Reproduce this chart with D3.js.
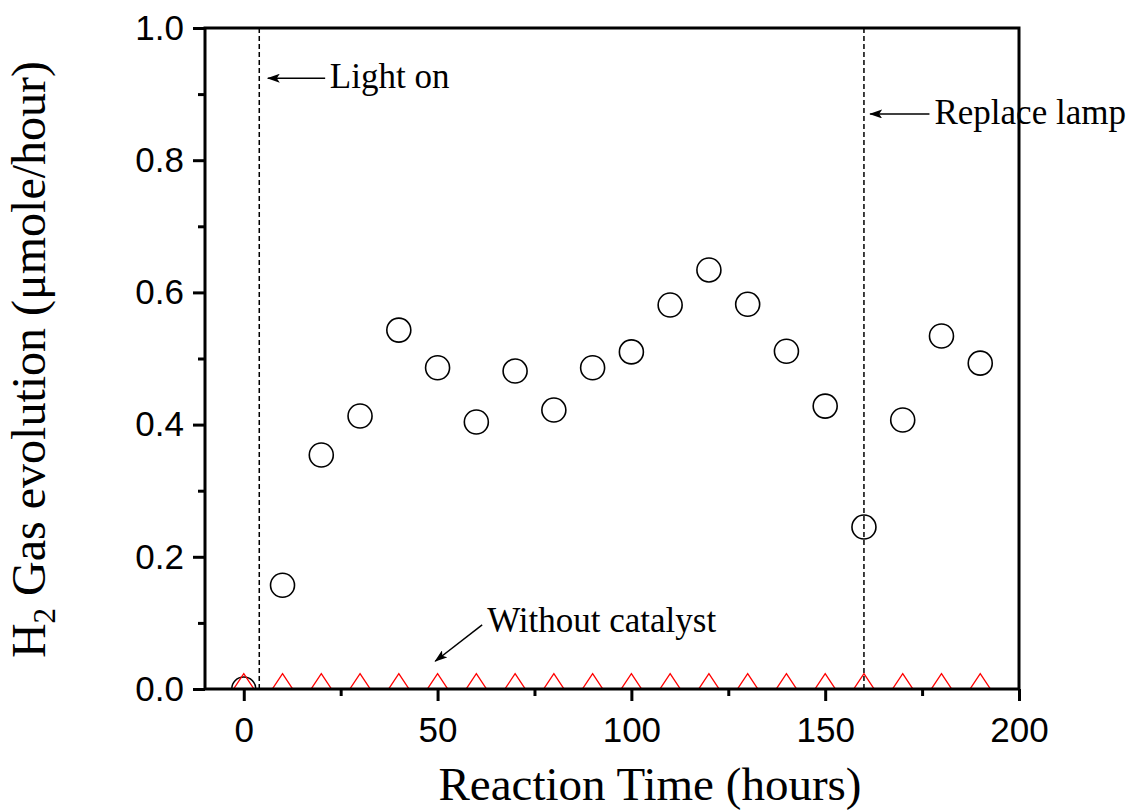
<!DOCTYPE html>
<html>
<head>
<meta charset="utf-8">
<script src="https://cdn.jsdelivr.net/npm/d3@7"></script>
<style>
  body { margin: 0; background: #fff; }
  svg { display: block; }
</style>
</head>
<body>
<svg id="chart"></svg>
<script>
// reaction time (hours)
const times = [0, 10, 20, 30, 40, 50, 60, 70, 80, 90, 100, 110, 120, 130, 140, 150, 160, 170, 180, 190];
// H2 evolution with catalyst (umole/hour)
const withCatalyst = [0.0, 0.157, 0.354, 0.413, 0.543, 0.486, 0.404, 0.481, 0.422, 0.486, 0.510, 0.581, 0.634, 0.582, 0.511, 0.428, 0.245, 0.407, 0.534, 0.493];
// without catalyst
const withoutCatalyst = [0.008, 0.008, 0.008, 0.008, 0.008, 0.008, 0.008, 0.008, 0.008, 0.008, 0.008, 0.008, 0.008, 0.008, 0.008, 0.008, 0.008, 0.008, 0.008, 0.008];

const xTicks = [0, 50, 100, 150, 200];
const xMinor = [25, 75, 125, 175];
const yTicks = [0.0, 0.2, 0.4, 0.6, 0.8, 1.0];
const yMinor = [0.1, 0.3, 0.5, 0.7, 0.9];

// events marked by dashed lines
const eventTimes = [4, 160];

var margin = { top: 28, right: 114, bottom: 122, left: 205 };
var width = 1133 - margin.left - margin.right;
var height = 811 - margin.top - margin.bottom;

const svg = d3.select("#chart")
    .attr("width", width + margin.left + margin.right)
    .attr("height", height + margin.top + margin.bottom)
    .append("g")
    .attr("transform", `translate(${margin.left},${margin.top})`);

const x = d3.scaleLinear().domain([-10, 200]).range([0, width]);
const y = d3.scaleLinear().domain([0, 1]).range([height, 0]);

const tickFont = "'Liberation Sans', Arial, sans-serif";
const serif = "'Liberation Serif', 'Times New Roman', serif";

// arrow marker (tip at the end of the line)
svg.append("defs").append("marker")
    .attr("id", "arrow")
    .attr("viewBox", "0 0 13 9")
    .attr("refX", 12).attr("refY", 4.5)
    .attr("markerWidth", 13).attr("markerHeight", 9)
    .attr("markerUnits", "userSpaceOnUse")
    .attr("orient", "auto")
    .append("path")
    .attr("d", "M13,4.5L0,0L3,4.5L0,9Z")
    .attr("fill", "#000");

svg.append("clipPath").attr("id", "plotClip")
    .append("rect").attr("width", width).attr("height", height);

// dashed event lines
svg.selectAll(".event")
    .data(eventTimes)
    .join("line")
    .attr("x1", d => x(d)).attr("x2", d => x(d))
    .attr("y1", 0).attr("y2", height)
    .attr("stroke", "#000")
    .attr("stroke-width", 1.5)
    .attr("stroke-dasharray", "5,3");

// circles (with catalyst)
const pts = svg.append("g").attr("clip-path", "url(#plotClip)");
pts.selectAll(".pt")
    .data(times)
    .join("circle")
    .attr("cx", (d) => x(d))
    .attr("cy", (d, i) => y(withCatalyst[i]))
    .attr("r", 12)
    .attr("fill", "none")
    .attr("stroke", "#000")
    .attr("stroke-width", 1.6);

// triangles (without catalyst) - a bit wider than equilateral
const wideTriangle = {
    draw(ctx, size) {
        const w = Math.sqrt(size), h = w * 0.75;
        ctx.moveTo(0, -h * 2 / 3);
        ctx.lineTo(w / 2, h / 3);
        ctx.lineTo(-w / 2, h / 3);
        ctx.closePath();
    }
};
const tri = d3.symbol().type(wideTriangle).size(400);
pts.selectAll(".tri")
    .data(times)
    .join("path")
    .attr("d", tri)
    .attr("transform", (d, i) => `translate(${x(d)},${y(withoutCatalyst[i])})`)
    .attr("fill", "none")
    .attr("stroke", "#ff0000")
    .attr("stroke-width", 1.3);

// axes
const xAxis = svg.append("g")
    .attr("transform", `translate(0,${height})`)
    .call(d3.axisBottom(x).tickValues(xTicks).tickSize(12).tickPadding(16).tickFormat(d3.format("d")));
const xMinorAxis = svg.append("g")
    .attr("transform", `translate(0,${height})`)
    .call(d3.axisBottom(x).tickValues(xMinor).tickSize(7).tickFormat(""));
const yAxis = svg.append("g")
    .call(d3.axisLeft(y).tickValues(yTicks).tickSize(12).tickPadding(9).tickFormat(d3.format(".1f")));
const yMinorAxis = svg.append("g")
    .call(d3.axisLeft(y).tickValues(yMinor).tickSize(7).tickFormat(""));

[xAxis, xMinorAxis, yAxis, yMinorAxis].forEach(g => {
    g.select(".domain").remove();
    g.selectAll("line").attr("stroke", "#000").attr("stroke-width", 3);
    g.selectAll("text")
        .attr("fill", "#000")
        .style("font-family", tickFont)
        .style("font-size", "35px");
});

// frame
svg.append("rect")
    .attr("width", width).attr("height", height)
    .attr("fill", "none")
    .attr("stroke", "#000")
    .attr("stroke-width", 3);

// annotations
const notes = svg.append("g")
    .style("font-family", serif)
    .style("font-size", "35px")
    .attr("fill", "#000");

notes.append("line")
    .attr("x1", x(21)).attr("y1", y(0.924))
    .attr("x2", x(6.2)).attr("y2", y(0.924))
    .attr("stroke", "#000").attr("stroke-width", 1.5)
    .attr("marker-end", "url(#arrow)");
notes.append("text").attr("x", x(22.2)).attr("y", y(0.909)).text("Light on");

notes.append("line")
    .attr("x1", x(176.9)).attr("y1", y(0.870))
    .attr("x2", x(161.6)).attr("y2", y(0.870))
    .attr("stroke", "#000").attr("stroke-width", 1.5)
    .attr("marker-end", "url(#arrow)");
notes.append("text").attr("x", x(178.2)).attr("y", y(0.855)).text("Replace lamp");

notes.append("line")
    .attr("x1", x(61.5)).attr("y1", y(0.097))
    .attr("x2", x(49.4)).attr("y2", y(0.042))
    .attr("stroke", "#000").attr("stroke-width", 1.5)
    .attr("marker-end", "url(#arrow)");
notes.append("text").attr("x", x(62.8)).attr("y", y(0.086)).text("Without catalyst");

// X axis label
svg.append("text")
    .attr("text-anchor", "middle")
    .attr("x", 650 - margin.left)
    .attr("y", height + 111)
    .style("font-family", serif)
    .style("font-size", "47px")
    .attr("fill", "#000")
    .text("Reaction Time (hours)");

// Y axis label
const yLab = svg.append("text")
    .attr("text-anchor", "middle")
    .attr("transform", "rotate(-90)")
    .attr("x", -height / 2 - 1)
    .attr("y", 45 - margin.left)
    .style("font-family", serif)
    .style("font-size", "48px")
    .attr("fill", "#000");
yLab.append("tspan").text("H");
yLab.append("tspan").attr("dy", 10).style("font-size", "31px").text("2");
yLab.append("tspan").attr("dy", -10).text(" Gas evolution (\u03bcmole/hour)");
</script>
</body>
</html>
